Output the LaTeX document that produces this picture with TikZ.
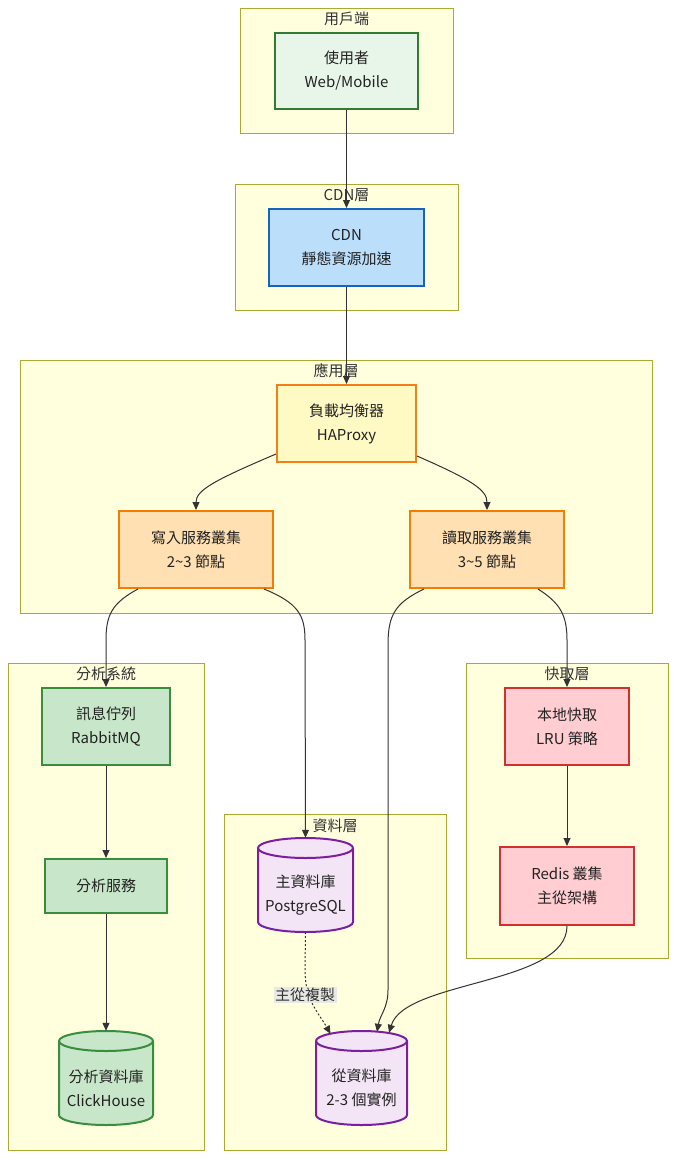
\documentclass[tikz,border=0pt]{standalone}
\usepackage{fontspec}
\setmainfont{Noto Sans CJK TC}
\usetikzlibrary{arrows.meta,calc}
\definecolor{clfill}{HTML}{FFFFDE}
\definecolor{clline}{HTML}{AAAA33}
\definecolor{txt}{HTML}{333333}
\definecolor{ink}{HTML}{222222}
\definecolor{ufill}{HTML}{E8F5E9}\definecolor{uline}{HTML}{2E7D32}
\definecolor{cfill}{HTML}{BBDEFB}\definecolor{cline}{HTML}{1565C0}
\definecolor{lfill}{HTML}{FFF9C4}\definecolor{lline}{HTML}{F57F17}
\definecolor{sfill}{HTML}{FFE0B2}\definecolor{sline}{HTML}{F57C00}
\definecolor{gfill}{HTML}{C8E6C9}\definecolor{gline}{HTML}{388E3C}
\definecolor{rfill}{HTML}{FFCDD2}\definecolor{rline}{HTML}{D32F2F}
\definecolor{pfill}{HTML}{F3E5F5}\definecolor{pline}{HTML}{7B1FA2}
\definecolor{lblbg}{HTML}{E8E8E4}
\tikzset{
  cluster/.style={draw=clline,fill=clfill,line width=1pt},
  cltitle/.style={text=txt,font=\fontsize{15}{18}\selectfont,inner sep=0pt},
  box/.style={draw,line width=2pt,inner sep=0pt,align=center,text=ink,
    font=\fontsize{15}{24}\selectfont},
  anchorbox/.style={inner sep=0pt,draw=none},
  dbtext/.style={align=center,text=ink,font=\fontsize{15}{24}\selectfont,inner sep=0pt},
  conn/.style={draw=txt,line width=1pt,-{Triangle[length=8pt,width=7pt]}},
  dotconn/.style={conn,dash pattern=on 2pt off 2pt},
}
% cylinder: x1 y1 x2 y2 fill line
\newcommand{\mydb}[6]{%
  \pgfmathsetmacro{\rx}{(#3-#1)/2}
  \draw[fill=#5,draw=#6,line width=2pt] (#1,#2+10) -- (#1,#4-10)
     arc[start angle=180,end angle=0,x radius=\rx,y radius=10]
     -- (#3,#2+10)
     arc[start angle=360,end angle=180,x radius=\rx,y radius=10] -- cycle;
  \draw[draw=#6,line width=2pt] (#1,#2+10)
     arc[start angle=180,end angle=0,x radius=\rx,y radius=10];
}
\begin{document}
\begin{tikzpicture}[x=1pt,y=-1pt]
\useasboundingbox (0,0) rectangle (684,1171);
\fill[white] (0,0) rectangle (684,1171);

% clusters
\draw[cluster] (240,8) rectangle (453,133);
\node[cltitle] (t1) at (346.5,19) {用戶端};
\draw[cluster] (235,184) rectangle (458,310);
\node[cltitle] (t2) at (346.5,195) {CDN層};
\draw[cluster] (20,360) rectangle (652,613);
\node[cltitle] (t3) at (336,371) {應用層};
\draw[cluster] (8,663) rectangle (204,1150);
\node[cltitle] (t4) at (106,674) {分析系統};
\draw[cluster] (224,814) rectangle (446,1150);
\node[cltitle] (t5) at (335,826) {資料層};
\draw[cluster] (466,663) rectangle (668,958);
\node[cltitle] (t6) at (567,674) {快取層};

% nodes
\node[box,fill=ufill,draw=uline,minimum width=143pt,minimum height=76pt] (user) at (346.5,71) {使用者\\Web/Mobile};
\node[box,fill=cfill,draw=cline,minimum width=155pt,minimum height=77pt] (cdn) at (346.5,247.5) {CDN\\靜態資源加速};
\node[box,fill=lfill,draw=lline,minimum width=139pt,minimum height=77pt] (lb) at (346.5,423.5) {負載均衡器\\HAProxy};
\node[box,fill=sfill,draw=sline,minimum width=154pt,minimum height=77pt] (write) at (196,549.5) {寫入服務叢集\\2\textasciitilde3 節點};
\node[box,fill=sfill,draw=sline,minimum width=154pt,minimum height=77pt] (read) at (487,549.5) {讀取服務叢集\\3\textasciitilde5 節點};
\node[box,fill=gfill,draw=gline,minimum width=128pt,minimum height=77pt] (mq) at (106,726.5) {訊息佇列\\RabbitMQ};
\node[box,fill=gfill,draw=gline,minimum width=122pt,minimum height=54pt] (ana) at (106,886) {分析服務};
\node[box,fill=rfill,draw=rline,minimum width=124pt,minimum height=77pt] (local) at (567,726.5) {本地快取\\LRU 策略};
\node[box,fill=rfill,draw=rline,minimum width=134pt,minimum height=78pt] (redis) at (567,886) {Redis 叢集\\主從架構};

% cylinders
\mydb{59}{1031}{153}{1125}{gfill}{gline}
\node[anchorbox,minimum width=94pt,minimum height=94pt] (click) at (106,1078) {};
\node[dbtext] (clicktxt) at (106,1088) {分析資料庫\\ClickHouse};
\mydb{258}{838}{353}{932}{pfill}{pline}
\node[anchorbox,minimum width=95pt,minimum height=94pt] (master) at (305.5,885) {};
\node[dbtext] (mastertxt) at (305.5,895) {主資料庫\\PostgreSQL};
\mydb{316}{1031}{407}{1125}{pfill}{pline}
\node[anchorbox,minimum width=91pt,minimum height=94pt] (slave) at (361.5,1078) {};
\node[dbtext] (slavetxt) at (361.5,1088) {從資料庫\\2-3 個實例};

% connectors
\draw[conn] (user.south) -- (cdn.north);
\draw[conn] (cdn.south) -- (lb.north);
\draw[conn] ([yshift=9pt]lb.south west) .. controls (215,480) and (196,490) .. (write.north);
\draw[conn] ([yshift=7pt]lb.south east) .. controls (472,480) and (487,490) .. (read.north);
\draw[conn] ([xshift=20pt]write.south west) .. controls (112,603) and (106,615) .. (106,640) -- (mq.north);
\draw[conn] ([xshift=-10pt]write.south east) .. controls (298,603) and (305,615) .. (305,640) -- (master.north);
\draw[conn] ([xshift=15pt]read.south west) .. controls (395,603) and (388,615) .. (388,645) -- (388,990) .. controls (388,1008) and (380,1015) .. ([xshift=15.5pt,yshift=-1pt]slave.north);
\draw[conn] ([xshift=-27pt]read.south east) .. controls (560,603) and (567,615) .. (567,640) -- (local.north);
\draw[conn] (local.south) -- (redis.south |- redis.north);
\draw[conn] (mq.south) -- (ana.north);
\draw[conn] (ana.south) -- (click.north);
\draw[conn] (redis.south) .. controls (567,985) and (405,980) .. ([xshift=27.5pt,yshift=-2pt]slave.north);
\draw[dotconn] (master.south) -- (305,970) .. controls (305,1000) and (318,1012) .. ([xshift=-31pt,yshift=-3pt]slave.north);
\node[fill=lblbg,text=txt,font=\fontsize{15}{18}\selectfont,inner sep=1.5pt] (replbl) at (305,995) {主從複製};
\end{tikzpicture}
\end{document}
